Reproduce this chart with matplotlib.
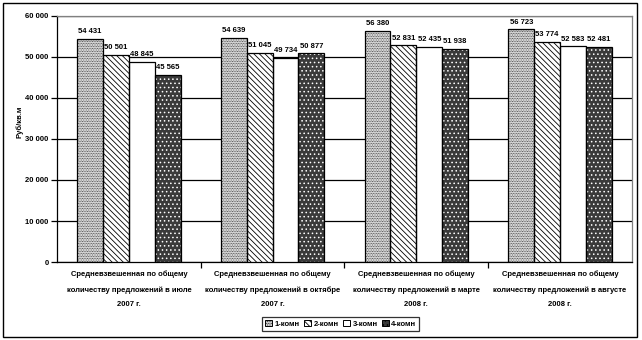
import matplotlib
matplotlib.use("Agg")
import matplotlib.pyplot as plt
import numpy as np
from matplotlib.patches import Patch, Rectangle

plt.rcParams['font.family'] = ['Liberation Sans', 'DejaVu Sans']
plt.rcParams['hatch.linewidth'] = 0.6

# ---------- data ----------
categories = [
    "Средневзвешенная по общему\nколичеству предложений в июле\n2007 г.",
    "Средневзвешенная по общему\nколичеству предложений в октябре\n2007 г.",
    "Средневзвешенная по общему\nколичеству предложений в марте\n2008 г.",
    "Средневзвешенная по общему\nколичеству предложений в августе\n2008 г.",
]
series_names = ["1-комн", "2-комн", "3-комн", "4-комн"]
room1 = [54431, 54639, 56380, 56723]
room2 = [50501, 51045, 52831, 53774]
room3 = [48845, 49734, 52435, 52583]
room4 = [45565, 50877, 51938, 52481]
y_ticks = [0, 10000, 20000, 30000, 40000, 50000, 60000]

series = [room1, room2, room3, room4]

fig = plt.figure(figsize=(6.42, 3.40), dpi=100)
ax = fig.add_axes([0.0888, 0.2294, 0.8956, 0.7236])

x = np.arange(len(categories))
w = 0.18
styles = [
    dict(face="white", hatch="..........", hcol="#222222"),
    dict(face="white", hatch="\\\\\\\\\\\\", hcol="black"),
    dict(face="white", hatch=None, hcol="black"),
    dict(face="#3a3a3a", hatch="....", hcol="white"),
]

handles = []
for i, (vals, st) in enumerate(zip(series, styles)):
    pos = x + (i - 1.5) * w
    # fill + hatch layer
    ax.bar(pos, vals, w, color=st["face"], hatch=st["hatch"],
           edgecolor=st["hcol"], linewidth=0, zorder=3)
    # outline
    ax.bar(pos, vals, w, fill=False, edgecolor="black", linewidth=0.9, zorder=4)
    for p, v in zip(pos, vals):
        ax.text(p, v + 900, f"{v:,}".replace(",", " "), ha="center", va="bottom",
                fontsize=5.5, fontweight="bold", zorder=5)
    handles.append(Patch(facecolor=st["face"], hatch=st["hatch"],
                         edgecolor="black", linewidth=0.7))

ax.set_xlim(-0.5, len(categories) - 0.5)
ax.set_ylim(0, 60000)
ax.set_yticks(y_ticks)
ax.set_yticklabels([f"{t:,}".replace(",", " ") for t in y_ticks],
                   fontsize=5.5, fontweight="bold")
ax.yaxis.grid(True, color="black", linewidth=0.9, zorder=0)
ax.set_axisbelow(True)

ax.set_xticks(x)
ax.set_xticklabels(categories, fontsize=5.5, fontweight="bold", linespacing=2.5)
ax.set_xticks(np.arange(0.5, len(categories) - 0.5, 1), minor=True)
ax.tick_params(axis="x", which="major", length=0, pad=6)
ax.tick_params(axis="x", which="minor", length=4, direction="out", width=0.9)
ax.tick_params(axis="y", length=4, direction="out", width=0.9, pad=2)

ax.set_ylabel("Руб/кв.м", fontsize=5.5, fontweight="bold", labelpad=2)
ax.yaxis.set_label_coords(-0.058, 0.57)

for s in ["top", "right"]:
    ax.spines[s].set_color("#808080")
    ax.spines[s].set_linewidth(0.9)
for s in ["left", "bottom"]:
    ax.spines[s].set_linewidth(0.9)

leg = fig.legend(handles, series_names, loc="center", bbox_to_anchor=(0.531, 0.047),
                 ncol=4, frameon=True, fancybox=False,
                 handlelength=0.9, handleheight=0.9, handletextpad=0.3,
                 columnspacing=0.6, borderpad=0.4, prop={"weight": "bold", "size": 5.5})
leg.get_frame().set_edgecolor("black")
leg.get_frame().set_linewidth(0.9)

fig.patches.append(Rectangle((3 / 642, 3 / 340), 634 / 642, 334 / 340, fill=False,
                             edgecolor="black", linewidth=1.0, transform=fig.transFigure))

plt.savefig("out.png", dpi=100)
